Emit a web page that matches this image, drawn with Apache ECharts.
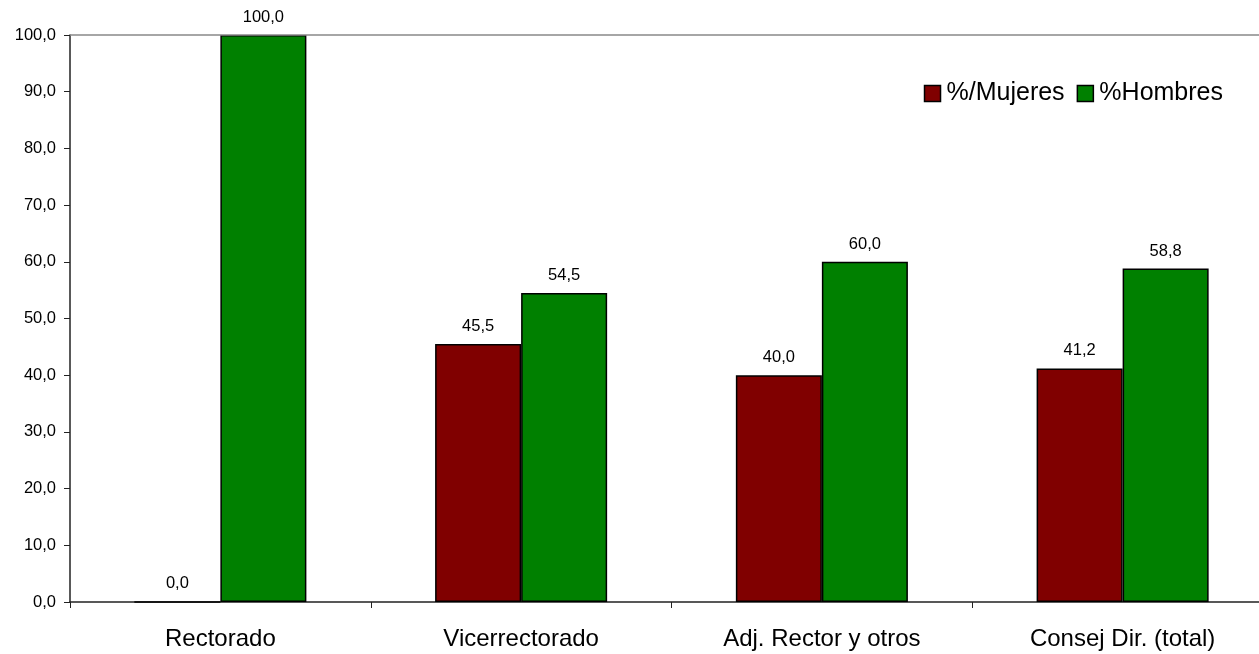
<!DOCTYPE html>
<html><head><meta charset="utf-8">
<script src="https://cdn.jsdelivr.net/npm/echarts@6/dist/echarts.min.js"></script>
<style>html,body{margin:0;padding:0;background:#fff}#c{width:1259px;height:654px}</style>
</head><body><div id="c"></div>
<script>
const categories = ['Rectorado', 'Vicerrectorado', 'Adj. Rector y otros', 'Consej Dir. (total)'];
const mujeres = [0.0, 45.5, 40.0, 41.2];
const hombres = [100.0, 54.5, 60.0, 58.8];
const yTicks = [0, 10, 20, 30, 40, 50, 60, 70, 80, 90, 100];

const fmt = v => Number(v).toFixed(1).replace('.', ',');
const chart = echarts.init(document.getElementById('c'), null, {renderer: 'canvas'});
const font = 'Liberation Sans, Arial, sans-serif';
chart.setOption({
  animation: false,
  backgroundColor: '#ffffff',
  textStyle: {fontFamily: font},
  legend: {
    right: 31, top: 76, itemWidth: 16, itemHeight: 16, itemGap: 12,
    icon: 'rect',
    textStyle: {fontFamily: font, fontSize: 25, color: '#000', padding: [0, 0, 0, 1]},
    data: [
      {name: '%/Mujeres', itemStyle: {borderColor: '#000', borderWidth: 1.5}},
      {name: '%Hombres', itemStyle: {borderColor: '#000', borderWidth: 1.5}}
    ]
  },
  grid: {left: 70, width: 1203, top: 35, bottom: 52, containLabel: false, outerBoundsMode: 'none'},
  xAxis: {
    type: 'category', data: categories,
    axisLine: {lineStyle: {color: '#222', width: 1.5}},
    axisTick: {show: true, length: 6, lineStyle: {color: '#222'}},
    axisLabel: {fontFamily: font, fontSize: 24, color: '#000', margin: 25}
  },
  yAxis: {
    type: 'value', min: yTicks[0], max: yTicks[yTicks.length - 1], interval: 10,
    axisLine: {show: true, lineStyle: {color: '#222', width: 1.5}},
    axisTick: {show: true, length: 6, lineStyle: {color: '#222'}},
    splitLine: {show: false},
    axisLabel: {fontFamily: font, fontSize: 16.5, color: '#000', margin: 14, formatter: v => fmt(v)}
  },
  series: [
    {
      name: '%/Mujeres', type: 'bar', data: mujeres,
      barGap: '0%', barCategoryGap: '42.8%',
      itemStyle: {color: '#800000', borderColor: '#000', borderWidth: 1.5},
      label: {show: true, position: 'top', distance: 9, fontFamily: font, fontSize: 16.5, color: '#000', formatter: p => fmt(p.value)},
      markLine: {
        silent: true, symbol: 'none', label: {show: false},
        lineStyle: {color: '#888888', width: 1.5, type: 'solid'},
        data: [{yAxis: yTicks[yTicks.length - 1]}]
      }
    },
    {
      name: '%Hombres', type: 'bar', data: hombres,
      barGap: '0%', barCategoryGap: '42.8%',
      itemStyle: {color: '#008000', borderColor: '#000', borderWidth: 1.5},
      label: {show: true, position: 'top', distance: 9, fontFamily: font, fontSize: 16.5, color: '#000', formatter: p => fmt(p.value)}
    }
  ]
});
</script></body></html>
